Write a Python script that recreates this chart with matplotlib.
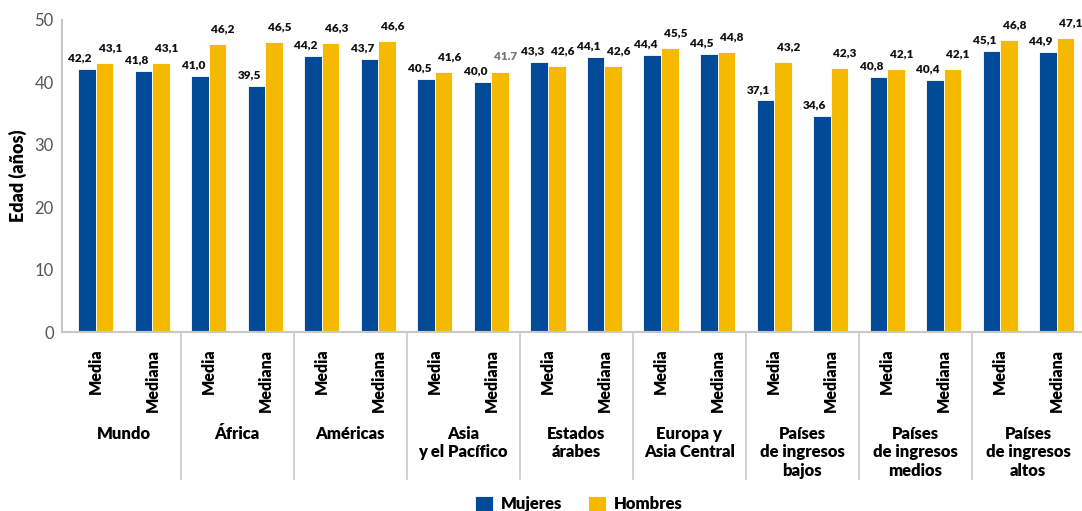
import matplotlib.pyplot as plt
from matplotlib.font_manager import FontProperties
import numpy as np

# data
groups = ["Mundo", "África", "Américas", "Asia\ny el Pacífico", "Estados\nárabes",
          "Europa y\nAsia Central", "Países\nde ingresos\nbajos",
          "Países\nde ingresos\nmedios", "Países\nde ingresos\naltos"]
stats = ["Media", "Mediana"]
mujeres = [42.2, 41.8, 41.0, 39.5, 44.2, 43.7, 40.5, 40.0, 43.3, 44.1,
           44.4, 44.5, 37.1, 34.6, 40.8, 40.4, 45.1, 44.9]
hombres = [43.1, 43.1, 46.2, 46.5, 46.3, 46.6, 41.6, 41.7, 42.6, 42.6,
           45.5, 44.8, 43.2, 42.3, 42.1, 42.1, 46.8, 47.1]
mujeres_txt = ["42,2", "41,8", "41,0", "39,5", "44,2", "43,7", "40,5", "40,0", "43,3",
               "44,1", "44,4", "44,5", "37,1", "34,6", "40,8", "40,4", "45,1", "44,9"]
hombres_txt = ["43,1", "43,1", "46,2", "46,5", "46,3", "46,6", "41,6", "41.7", "42,6",
               "42,6", "45,5", "44,8", "43,2", "42,3", "42,1", "42,1", "46,8", "47,1"]

BLUE = "#004a98"
YELLOW = "#f5b900"
GRID = "#c8c8c8"

plt.rcParams['font.family'] = ['Lato', 'DejaVu Sans']

fig = plt.figure(figsize=(10.82, 5.11), dpi=100)
ax = fig.add_axes([62 / 1082, 179 / 511, 1 - 62 / 1082, 312 / 511])

x = np.arange(len(mujeres))
w = 0.31
ax.bar(x - w / 2, mujeres, w, color=BLUE, edgecolor="white", linewidth=0.6, label="Mujeres")
ax.bar(x + w / 2, hombres, w, color=YELLOW, edgecolor="white", linewidth=0.6, label="Hombres")

for i in range(len(x)):
    ax.annotate(mujeres_txt[i], (x[i] - w / 2, mujeres[i]), xytext=(-5, 4),
                textcoords="offset points", ha="center", va="bottom",
                fontsize=8.5, fontweight="heavy", color="#111111")
    col = "#777777" if "." in hombres_txt[i] else "#111111"
    ax.annotate(hombres_txt[i], (x[i] + w / 2, hombres[i]), xytext=(4, 7),
                textcoords="offset points", ha="center", va="bottom",
                fontsize=8.5, fontweight="heavy", color=col)

ax.set_xlim(-0.6, 17.45)
ax.set_ylim(0, 50)
ax.set_yticks(range(0, 51, 10))
ax.tick_params(axis="y", length=0, labelsize=12, labelcolor="#555555", pad=6)
ax.set_xticks(x)
ax.set_xticklabels(stats * len(groups), rotation=90, fontsize=11.5, fontweight="heavy",
                   va="top", ha="center")
ax.tick_params(axis="x", length=0, pad=12)
ax.set_ylabel("Edad (años)", fontsize=13, fontweight="heavy", labelpad=5)

for side in ["top", "right"]:
    ax.spines[side].set_visible(False)
ax.spines["left"].set_color(GRID)
ax.spines["left"].set_linewidth(1.5)
ax.spines["bottom"].set_color(GRID)
ax.spines["bottom"].set_linewidth(1.5)

# group separators and names below the axis
trans = ax.get_xaxis_transform()
for k in range(1, len(groups)):
    ax.plot([2 * k - 0.5] * 2, [0, -0.47], transform=trans, color=GRID,
            linewidth=1.2, clip_on=False)
for k, g in enumerate(groups):
    ax.text(2 * k + 0.5, -0.30, g, transform=trans, ha="center", va="top",
            fontsize=12, fontweight="heavy", linespacing=1.2)

legend_font = FontProperties(family=['Lato', 'DejaVu Sans'], weight="heavy", size=12)
fig.legend(loc="center", bbox_to_anchor=(0.535, 0.014), ncol=2, frameon=False,
           handlelength=1.1, handleheight=1.1, columnspacing=1.5, handletextpad=0.5,
           prop=legend_font)

fig.savefig("out.png", dpi=100)
